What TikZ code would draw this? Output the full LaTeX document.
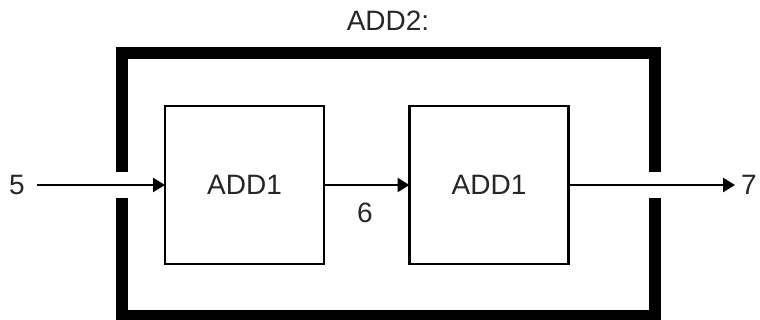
\documentclass[tikz,border=0pt]{standalone}
\usepackage{fontspec}
\setmainfont{Liberation Sans}
\usetikzlibrary{arrows.meta}
\begin{document}
\begin{tikzpicture}[x=1pt,y=-1pt,
  lbl/.style={font=\fontsize{28}{30}\selectfont, text=black!85},
  addbox/.style={draw, line width=2.5pt, minimum width=159pt, minimum height=158pt, inner sep=0pt, outer sep=0pt, lbl},
  frame/.style={line width=12pt, line join=miter, line cap=butt},
  conn/.style={line width=2.5pt, -{Triangle[length=12pt,width=14pt]}}
]
\useasboundingbox (0,0) rectangle (760,320);
% outer frame with gaps
\draw[frame] (122,172) -- (122,53) -- (655,53) -- (655,172);
\draw[frame] (655,198) -- (655,316) -- (122,316) -- (122,198);
% title
\node[lbl] (title) at (388,21) {ADD2:};
% inner boxes
\node[addbox] (b1) at (244.5,185) {ADD1};
\node[addbox] (b2) at (489,185) {ADD1};
% labels
\node[lbl, inner xsep=12pt, inner ysep=1pt] (in) at (17,185) {5};
\node[lbl, inner xsep=6pt, inner ysep=1pt] (out) at (749,185) {7};
\node[lbl] (mid) at (365,213) {6};
% connectors
\draw[conn] (in.east) -- (b1.west);
\draw[conn] (b1.east) -- (b2.west);
\draw[conn] (b2.east) -- (out.west);
\end{tikzpicture}
\end{document}
